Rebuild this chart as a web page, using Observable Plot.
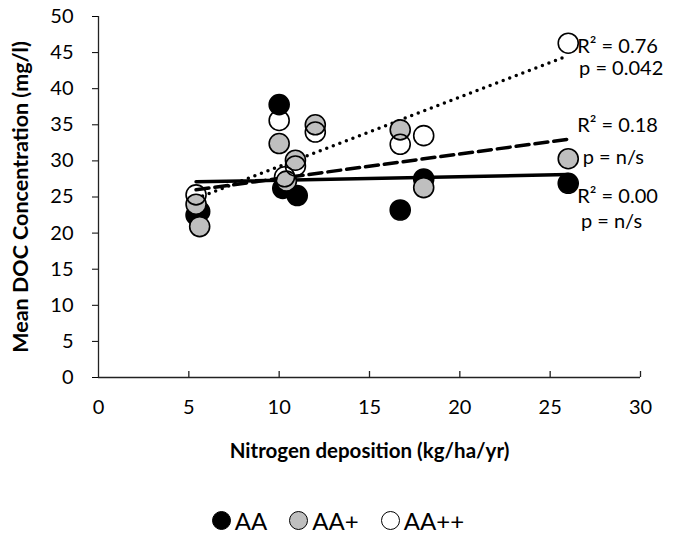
<!DOCTYPE html>
<html><head><meta charset="utf-8">
<script src="https://cdn.jsdelivr.net/npm/d3@7"></script>
<script src="https://cdn.jsdelivr.net/npm/@observablehq/plot@0.6"></script>
<style>
body{margin:0;background:#fff;font-family:Lato,"Open Sans",sans-serif;}
#chart svg{font-family:Lato,"Open Sans",sans-serif;color:#000;}
g[aria-label="y-axis label"] text{font-weight:700;font-size:21.5px;}
g[aria-label="x-axis label"] text{font-weight:700;font-size:20.5px;}
.legend{display:flex;justify-content:center;align-items:center;height:24px;font-size:24px;color:#000;}
.legend .item{display:flex;align-items:center;margin:0 11px;}
.legend .sw{width:19px;height:19px;border-radius:50%;border:1.5px solid #000;box-sizing:border-box;margin-right:4px;}
</style></head><body>
<div id="chart"></div>
<script>
// Series names and marker fills
const groups = ["AA", "AA+", "AA++"];
const fills = ["#000000", "#bfbfbf", "none"];
const legendFills = ["#000000", "#bfbfbf", "#ffffff"];

// Nitrogen deposition (x) and mean DOC (y) per series
const aaX   = [5.4, 5.6, 10.0, 10.2, 11.0, 16.7, 18.0, 26.0];
const aaY   = [22.5, 23.0, 37.8, 26.2, 25.2, 23.2, 27.5, 26.9];
const aapX  = [5.4, 5.6, 10.0, 10.4, 10.9, 12.0, 16.7, 18.0, 26.0];
const aapY  = [24.0, 20.9, 32.4, 27.2, 30.1, 35.0, 34.3, 26.3, 30.3];
const aappX = [5.4, 10.0, 10.3, 10.9, 12.0, 16.7, 18.0, 26.0];
const aappY = [25.3, 35.6, 27.8, 29.3, 34.0, 32.3, 33.5, 46.3];

// Linear trend line end points (x range and fitted y)
const trendX = [5.4, 26.0];
const aaTrend = [27.1, 28.1];
const aapTrend = [26.0, 33.0];
const aappTrend = [24.8, 44.6];

// Annotations
const annText = ["R² = 0.76", "p = 0.042", "R² = 0.18", "p = n/s", "R² = 0.00", "p = n/s"];
const annX = [26.5, 26.6, 26.5, 26.8, 26.5, 26.7];
const annY = [45.8, 42.8, 34.9, 30.5, 25.0, 21.6];

// Axis ticks
const xTicks = [0, 5, 10, 15, 20, 25, 30];
const yTicks = [0, 5, 10, 15, 20, 25, 30, 35, 40, 45, 50];

const pts = [];
[[aaX, aaY], [aapX, aapY], [aappX, aappY]].forEach(([xs, ys], g) =>
  xs.forEach((x, i) => pts.push({x, y: ys[i], g})));
const trends = [];
[aaTrend, aapTrend, aappTrend].forEach((t, g) =>
  trendX.forEach((x, i) => trends.push({x, y: t[i], g})));
const ann = annText.map((t, i) => ({t, x: annX[i], y: annY[i]}));

const chart = Plot.plot({
  width: 676, height: 508,
  marginLeft: 98, marginRight: 36, marginTop: 16, marginBottom: 131,
  x: {domain: [0, 30]},
  y: {domain: [0, 50]},
  marks: [
    Plot.axisY(yTicks, {tickSize: 6, tickPadding: 19, fontSize: 20, label: "Mean DOC Concentration (mg/l)", labelAnchor: "center", labelOffset: 86, labelArrow: "none"}),
    Plot.axisX(xTicks, {tickSize: 0, tickPadding: 22, fontSize: 20, label: "Nitrogen deposition (kg/ha/yr)", labelAnchor: "center", labelOffset: 80, labelArrow: "none"}),
    Plot.ruleX([0], {y1: 0, y2: 50, stroke: "#222", strokeWidth: 1.3}),
    Plot.ruleY([0], {x1: 0, x2: 30, stroke: "#222", strokeWidth: 1.3}),
    Plot.ruleX(xTicks.slice(1), {x: d => d, y1: 0, y2: 0, insetTop: -6, stroke: "#222", strokeWidth: 1.3}),
    Plot.line(trends.filter(d => d.g === 0), {x: "x", y: "y", stroke: "#000", strokeWidth: 3.5}),
    Plot.line(trends.filter(d => d.g === 1), {x: "x", y: "y", stroke: "#000", strokeWidth: 3.5, strokeDasharray: "13 6"}),
    Plot.line(trends.filter(d => d.g === 2), {x: "x", y: "y", stroke: "#000", strokeWidth: 3.5, strokeDasharray: "0 7", strokeLinecap: "round"}),
    ...[0, 1, 2].map(g => Plot.dot(pts.filter(d => d.g === g), {x: "x", y: "y", r: 10, fill: fills[g], stroke: "#000", strokeWidth: 1.6})),
    Plot.text(ann, {x: "x", y: "y", text: "t", textAnchor: "start", fontSize: 20, fill: "#000"})
  ]
});
document.getElementById("chart").appendChild(chart);

const leg = document.createElement("div");
leg.className = "legend";
groups.forEach((g, i) => {
  const it = document.createElement("div");
  it.className = "item";
  const sw = document.createElement("span");
  sw.className = "sw";
  sw.style.background = legendFills[i];
  const lb = document.createElement("span");
  lb.textContent = g;
  it.appendChild(sw); it.appendChild(lb);
  leg.appendChild(it);
});
document.body.appendChild(leg);
</script>
</body></html>
